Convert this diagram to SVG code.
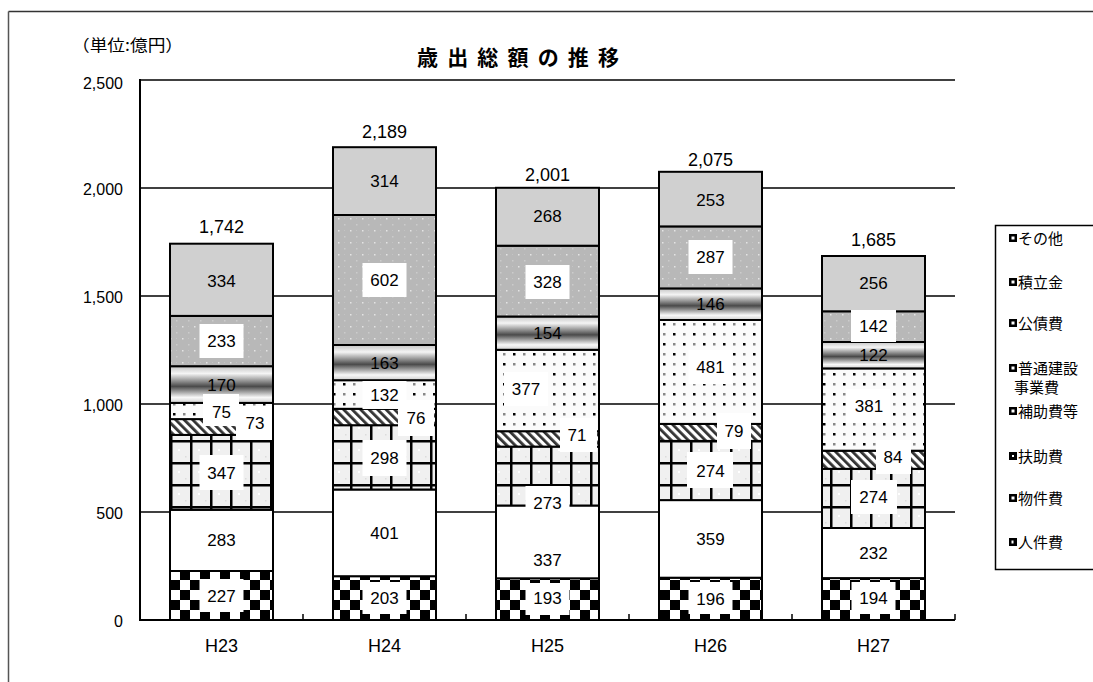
<svg xmlns="http://www.w3.org/2000/svg" width="1093" height="682" viewBox="0 0 1093 682">
<style>
.num{font-family:"Liberation Sans",Arial,sans-serif;font-size:17px;fill:#000;text-anchor:middle}
.tot{font-family:"Liberation Sans",Arial,sans-serif;font-size:18px;fill:#000;text-anchor:middle}
.ax{font-family:"Liberation Sans",Arial,sans-serif;font-size:16px;fill:#000;text-anchor:end}
.cat{font-family:"Liberation Sans",Arial,sans-serif;font-size:18px;fill:#000;text-anchor:middle}
.jp{font-family:"Noto Sans CJK JP","Liberation Sans",sans-serif;fill:#000}
.leg{font-family:"Noto Sans CJK JP","Liberation Sans",sans-serif;font-size:15px;fill:#000}
.grid{stroke:#000;stroke-width:1.5;fill:none}
.seg{stroke:#000;stroke-width:2}
.box{fill:#fff;stroke:none}
.ico{fill:#000}
.icoin{fill:#fff}
</style>
<defs>
<pattern id="pCheck" width="20" height="20" patternUnits="userSpaceOnUse" x="170" y="620">
<rect width="20" height="20" fill="#fff"/>
<rect width="10" height="10" fill="#000"/>
<rect x="10" y="10" width="10" height="10" fill="#000"/>
</pattern>
<pattern id="pGrid" width="20" height="22" patternUnits="userSpaceOnUse" x="170">
<rect width="20" height="22" fill="#f0f0f0"/>
<rect x="8" y="9" width="2" height="2" fill="#fff"/>
<rect x="15" y="16" width="1.5" height="1.5" fill="#dcdcdc"/>
<rect x="0" y="0" width="2.5" height="22" fill="#000"/>
<rect x="0" y="0" width="20" height="2.5" fill="#000"/>
</pattern>
<pattern id="pHatch" width="6" height="6" patternUnits="userSpaceOnUse" patternTransform="rotate(-45)">
<rect width="6" height="6" fill="#fff"/>
<rect width="2.8" height="6" fill="#333"/>
</pattern>
<pattern id="pDots" width="20" height="20" patternUnits="userSpaceOnUse">
<rect width="20" height="20" fill="#fbfbfb"/>
<rect x="3" y="3" width="2.5" height="2.5" fill="#000"/>
<rect x="13" y="3" width="2.5" height="2.5" fill="#888"/>
<rect x="3" y="13" width="2.5" height="2.5" fill="#888"/>
<rect x="13" y="13" width="2.5" height="2.5" fill="#000"/>
</pattern>
<pattern id="pSpeck" width="12" height="12" patternUnits="userSpaceOnUse">
<rect width="12" height="12" fill="#b8b8b8"/>
<rect x="2" y="2" width="1.5" height="1.5" fill="#e4e4e4"/>
<rect x="8" y="8" width="1.5" height="1.5" fill="#cccccc"/>
<rect x="8" y="2" width="1" height="1" fill="#c4c4c4"/>
</pattern>
<linearGradient id="gBond" x1="0" y1="0" x2="0" y2="1">
<stop offset="0" stop-color="#c4c4c4"/>
<stop offset="0.2" stop-color="#f4f4f4"/>
<stop offset="0.55" stop-color="#4a4a4a"/>
<stop offset="0.85" stop-color="#f8f8f8"/>
<stop offset="1" stop-color="#d0d0d0"/>
</linearGradient>
</defs>

<rect width="1093" height="682" fill="#fff"/>

<g id="frame">
<line x1="8.5" y1="11.5" x2="1093" y2="11.5" stroke="#333" stroke-width="1.5"/>
<line x1="8.5" y1="11.5" x2="8.5" y2="682" stroke="#555" stroke-width="1.5"/>
</g>

<g id="title">
<text class="jp" x="417" y="65" font-size="21" font-weight="bold" textLength="202" lengthAdjust="spacing">歳 出 総 額 の 推 移</text>
<text class="jp" x="72" y="51" font-size="16" textLength="111" lengthAdjust="spacingAndGlyphs">（単位:億円）</text>
</g>

<g id="axes">
<line class="grid" x1="140" y1="80" x2="955" y2="80"/>
<line class="grid" x1="140" y1="188" x2="955" y2="188"/>
<line class="grid" x1="140" y1="296" x2="955" y2="296"/>
<line class="grid" x1="140" y1="404" x2="955" y2="404"/>
<line class="grid" x1="140" y1="512" x2="955" y2="512"/>
<line x1="140" y1="620" x2="955" y2="620" stroke="#000" stroke-width="2"/>
<line x1="140" y1="79" x2="140" y2="621" stroke="#000" stroke-width="2"/>
<path d="M303 614V620M466 614V620M629 614V620M792 614V620M955 614V620" stroke="#000" stroke-width="1.5"/>
<text class="ax" x="123" y="89">2,500</text>
<text class="ax" x="123" y="195">2,000</text>
<text class="ax" x="123" y="303">1,500</text>
<text class="ax" x="123" y="411">1,000</text>
<text class="ax" x="123" y="519">500</text>
<text class="ax" x="123" y="627">0</text>
<text class="cat" x="221.5" y="652">H23</text>
<text class="cat" x="384.5" y="652">H24</text>
<text class="cat" x="547.5" y="652">H25</text>
<text class="cat" x="710.5" y="652">H26</text>
<text class="cat" x="873.5" y="652">H27</text>
</g>

<g id="bar-H23">
<rect class="seg" x="170" y="571" width="103" height="49" fill="url(#pCheck)"/>
<rect class="seg" x="170" y="509.8" width="103" height="61.2" fill="#fff"/>
<rect class="seg" x="170" y="434.9" width="103" height="74.9" fill="url(#pGrid)"/>
<rect class="seg" x="170" y="419.1" width="103" height="15.8" fill="url(#pHatch)"/>
<rect class="seg" x="170" y="402.9" width="103" height="16.2" fill="url(#pDots)"/>
<rect class="seg" x="170" y="366.2" width="103" height="36.7" fill="url(#gBond)"/>
<rect class="seg" x="170" y="315.9" width="103" height="50.3" fill="url(#pSpeck)"/>
<rect class="seg" x="170" y="243.7" width="103" height="72.2" fill="#d0d0d0"/>
<rect class="box" x="199.5" y="579" width="44" height="33"/>
<rect class="box" x="199.5" y="455" width="44" height="35"/>
<rect class="box" x="236" y="406" width="36" height="34"/>
<rect class="box" x="203" y="394" width="36" height="32"/>
<rect class="box" x="199.5" y="324" width="44" height="34"/>
<text class="num" x="221.5" y="287">334</text>
<text class="num" x="221.5" y="347">233</text>
<text class="num" x="221.5" y="391">170</text>
<text class="num" x="221.5" y="418">75</text>
<text class="num" x="255" y="429">73</text>
<text class="num" x="221.5" y="479">347</text>
<text class="num" x="221.5" y="546">283</text>
<text class="num" x="221.5" y="602">227</text>
<text class="tot" x="221.5" y="233">1,742</text>
</g>

<g id="bar-H24">
<rect class="seg" x="333" y="576.2" width="103" height="43.8" fill="url(#pCheck)"/>
<rect class="seg" x="333" y="489.5" width="103" height="86.7" fill="#fff"/>
<rect class="seg" x="333" y="425.2" width="103" height="64.3" fill="url(#pGrid)"/>
<rect class="seg" x="333" y="408.8" width="103" height="16.4" fill="url(#pHatch)"/>
<rect class="seg" x="333" y="380.2" width="103" height="28.6" fill="url(#pDots)"/>
<rect class="seg" x="333" y="345" width="103" height="35.2" fill="url(#gBond)"/>
<rect class="seg" x="333" y="215" width="103" height="130" fill="url(#pSpeck)"/>
<rect class="seg" x="333" y="147.2" width="103" height="67.8" fill="#d0d0d0"/>
<rect class="box" x="362.5" y="582" width="44" height="32"/>
<rect class="box" x="362.5" y="440" width="44" height="36"/>
<rect class="box" x="398" y="400" width="36" height="36"/>
<rect class="box" x="362.5" y="381" width="44" height="28"/>
<rect class="box" x="362.5" y="263" width="44" height="34"/>
<text class="num" x="384.5" y="187">314</text>
<text class="num" x="384.5" y="286">602</text>
<text class="num" x="384.5" y="369">163</text>
<text class="num" x="384.5" y="401">132</text>
<text class="num" x="416" y="424">76</text>
<text class="num" x="384.5" y="464">298</text>
<text class="num" x="384.5" y="539">401</text>
<text class="num" x="384.5" y="604">203</text>
<text class="tot" x="384.5" y="138">2,189</text>
</g>

<g id="bar-H25">
<rect class="seg" x="496" y="578.3" width="103" height="41.7" fill="url(#pCheck)"/>
<rect class="seg" x="496" y="505.5" width="103" height="72.8" fill="#fff"/>
<rect class="seg" x="496" y="446.6" width="103" height="58.9" fill="url(#pGrid)"/>
<rect class="seg" x="496" y="431.2" width="103" height="15.4" fill="url(#pHatch)"/>
<rect class="seg" x="496" y="349.8" width="103" height="81.4" fill="url(#pDots)"/>
<rect class="seg" x="496" y="316.5" width="103" height="33.3" fill="url(#gBond)"/>
<rect class="seg" x="496" y="245.7" width="103" height="70.8" fill="url(#pSpeck)"/>
<rect class="seg" x="496" y="187.8" width="103" height="57.9" fill="#d0d0d0"/>
<rect class="box" x="525.5" y="583" width="44" height="32"/>
<rect class="box" x="525.5" y="486" width="44" height="35"/>
<rect class="box" x="560" y="418" width="37" height="34"/>
<rect class="box" x="504" y="372" width="44" height="34"/>
<rect class="box" x="525.5" y="265" width="44" height="34"/>
<text class="num" x="547.5" y="222">268</text>
<text class="num" x="547.5" y="288">328</text>
<text class="num" x="547.5" y="339">154</text>
<text class="num" x="526" y="395">377</text>
<text class="num" x="577" y="441">71</text>
<text class="num" x="547.5" y="509">273</text>
<text class="num" x="547.5" y="566">337</text>
<text class="num" x="547.5" y="604">193</text>
<text class="tot" x="547.5" y="181">2,001</text>
</g>

<g id="bar-H26">
<rect class="seg" x="659" y="577.7" width="103" height="42.3" fill="url(#pCheck)"/>
<rect class="seg" x="659" y="500.1" width="103" height="77.6" fill="#fff"/>
<rect class="seg" x="659" y="440.9" width="103" height="59.2" fill="url(#pGrid)"/>
<rect class="seg" x="659" y="423.9" width="103" height="17" fill="url(#pHatch)"/>
<rect class="seg" x="659" y="320" width="103" height="103.9" fill="url(#pDots)"/>
<rect class="seg" x="659" y="288.4" width="103" height="31.6" fill="url(#gBond)"/>
<rect class="seg" x="659" y="226.4" width="103" height="62" fill="url(#pSpeck)"/>
<rect class="seg" x="659" y="171.8" width="103" height="54.6" fill="#d0d0d0"/>
<rect class="box" x="688.5" y="582" width="44" height="32"/>
<rect class="box" x="687" y="452" width="46" height="36"/>
<rect class="box" x="717" y="413" width="34" height="36"/>
<rect class="box" x="688.5" y="350" width="44" height="34"/>
<rect class="box" x="688.5" y="240" width="44" height="34"/>
<text class="num" x="710.5" y="206">253</text>
<text class="num" x="710.5" y="263">287</text>
<text class="num" x="710.5" y="310">146</text>
<text class="num" x="710.5" y="373">481</text>
<text class="num" x="734" y="437">79</text>
<text class="num" x="710.5" y="477">274</text>
<text class="num" x="710.5" y="545">359</text>
<text class="num" x="710.5" y="605">196</text>
<text class="tot" x="710.5" y="166">2,075</text>
</g>

<g id="bar-H27">
<rect class="seg" x="822" y="578.1" width="103" height="41.9" fill="url(#pCheck)"/>
<rect class="seg" x="822" y="528" width="103" height="50.1" fill="#fff"/>
<rect class="seg" x="822" y="468.8" width="103" height="59.2" fill="url(#pGrid)"/>
<rect class="seg" x="822" y="450.7" width="103" height="18.1" fill="url(#pHatch)"/>
<rect class="seg" x="822" y="368.4" width="103" height="82.3" fill="url(#pDots)"/>
<rect class="seg" x="822" y="342" width="103" height="26.4" fill="url(#gBond)"/>
<rect class="seg" x="822" y="311.3" width="103" height="30.7" fill="url(#pSpeck)"/>
<rect class="seg" x="822" y="256" width="103" height="55.3" fill="#d0d0d0"/>
<rect class="box" x="851.5" y="582" width="44" height="32"/>
<rect class="box" x="851" y="480" width="46" height="34"/>
<rect class="box" x="876" y="440" width="35" height="34"/>
<rect class="box" x="846" y="389" width="44" height="34"/>
<rect class="box" x="851" y="310" width="45" height="32"/>
<text class="num" x="873.5" y="289">256</text>
<text class="num" x="873.5" y="332">142</text>
<text class="num" x="873.5" y="361">122</text>
<text class="num" x="869" y="412">381</text>
<text class="num" x="893" y="463">84</text>
<text class="num" x="873.5" y="503">274</text>
<text class="num" x="873.5" y="559">232</text>
<text class="num" x="873.5" y="604">194</text>
<text class="tot" x="873.5" y="246">1,685</text>
</g>

<g id="legend">
<rect x="995.5" y="225.5" width="100" height="344" fill="#fff" stroke="#000" stroke-width="1.5"/>
<rect class="ico" x="1009" y="234" width="8" height="8"/><rect class="icoin" x="1011.5" y="236.5" width="3" height="3"/>
<text class="leg" x="1018" y="244">その他</text>
<rect class="ico" x="1009" y="278" width="8" height="8"/><rect class="icoin" x="1011.5" y="280.5" width="3" height="3" fill="#ddd"/>
<text class="leg" x="1018" y="288">積立金</text>
<rect class="ico" x="1009" y="319" width="8" height="8"/><rect class="icoin" x="1011.5" y="321.5" width="3" height="3" fill="#ccc"/>
<text class="leg" x="1018" y="329">公債費</text>
<rect class="ico" x="1009" y="364" width="8" height="8"/><rect class="icoin" x="1011.5" y="366.5" width="3" height="3"/>
<text class="leg" x="1018" y="374">普通建設</text>
<text class="leg" x="1014" y="393">事業費</text>
<rect class="ico" x="1009" y="407" width="8" height="8"/><rect class="icoin" x="1011.5" y="409.5" width="3" height="3"/>
<text class="leg" x="1018" y="417">補助費等</text>
<rect class="ico" x="1009" y="452" width="8" height="8"/><rect class="icoin" x="1012" y="455" width="2" height="2"/>
<text class="leg" x="1018" y="462">扶助費</text>
<rect class="ico" x="1009" y="494" width="8" height="8"/><rect class="icoin" x="1011.5" y="496.5" width="3" height="3"/>
<text class="leg" x="1018" y="504">物件費</text>
<rect class="ico" x="1009" y="538" width="8" height="8"/><rect class="icoin" x="1011.5" y="540.5" width="2" height="3"/>
<text class="leg" x="1018" y="548">人件費</text>
</g>
</svg>
